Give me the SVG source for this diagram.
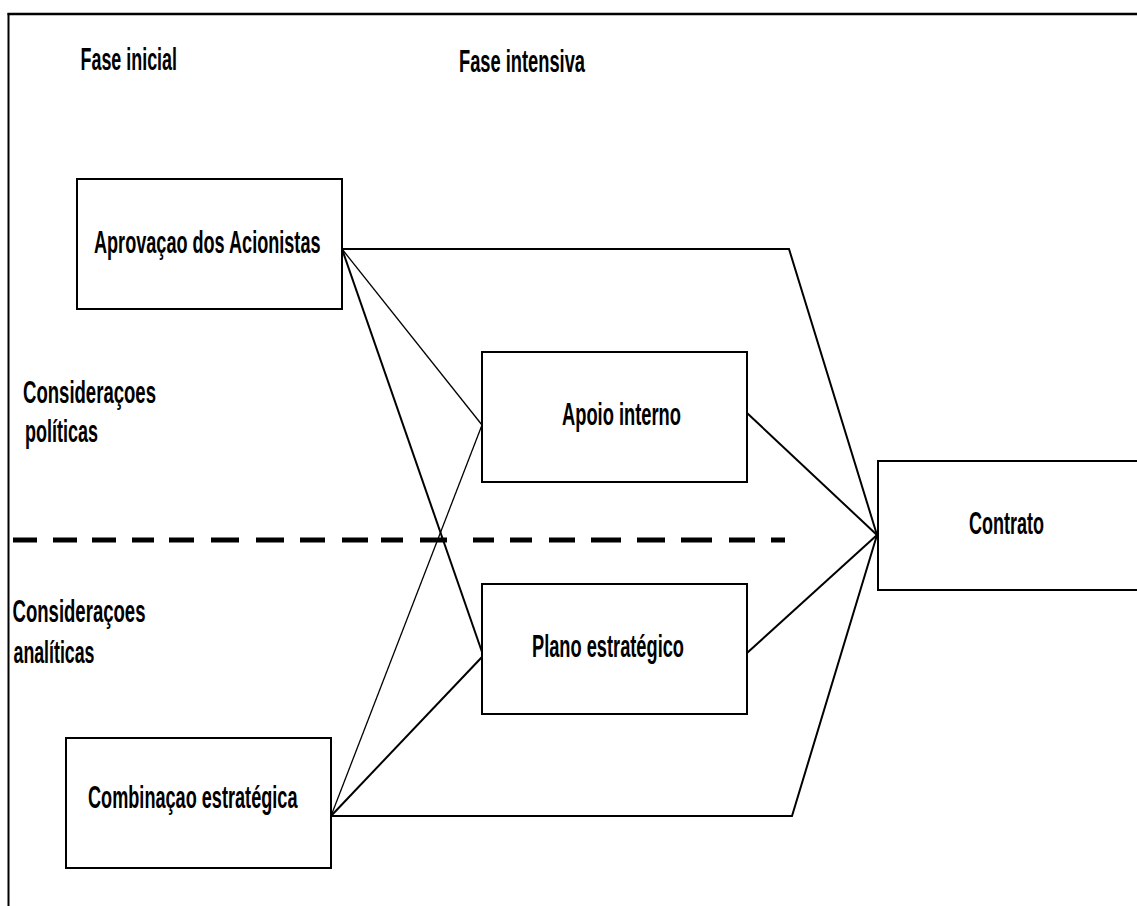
<svg xmlns="http://www.w3.org/2000/svg" width="1137" height="906" viewBox="0 0 1137 906">
<style>
  .box { fill: #fff; stroke: #000; stroke-width: 2; }
  .lbl { font-family: "Liberation Sans", Arial, sans-serif; font-weight: bold; font-size: 30.5px; fill: #000; }
  .c { fill: none; stroke: #000; stroke-linejoin: miter; }
  .thick { stroke-width: 2; }
  .thin { stroke-width: 1.3; }
</style>
<rect x="0" y="0" width="1137" height="906" fill="#fff"/>
<g id="frame" fill="none" stroke="#000">
  <line x1="7.5" y1="14" x2="1137" y2="14" stroke-width="2.5"/>
  <line x1="8.5" y1="13" x2="8.5" y2="906" stroke-width="2"/>
</g>
<g id="divider">
  <path d="M13 540H37M53 540H77M92 540H116M132 540H154M169 540H194M211 540H239M256 540H284M300 540H325M342 540H368M381 540H403M420 540H447M473 540H494M510 540H532M549 540H575M591 540H621M637 540H665M681 540H712M729 540H755M771 540H785" stroke="#000" stroke-width="5" fill="none"/>
</g>
<g id="connectors">
  <polyline class="c thick" points="342,249 789,249 877,535"/>
  <line class="c thin" x1="342" y1="249" x2="482" y2="425"/>
  <line class="c thick" x1="342" y1="249" x2="482" y2="652"/>
  <line class="c thin" x1="331" y1="816" x2="482" y2="425"/>
  <line class="c thick" x1="331" y1="816" x2="482" y2="657"/>
  <polyline class="c thick" points="331,816 792,816 877,535"/>
  <line class="c thick" x1="747" y1="413" x2="877" y2="535"/>
  <line class="c thick" x1="747" y1="653" x2="877" y2="535"/>
</g>
<g id="phase-labels">
  <text class="lbl" x="80.5" y="69.5" textLength="96.5" lengthAdjust="spacingAndGlyphs">Fase inicial</text>
  <text class="lbl" x="459" y="71.5" textLength="126" lengthAdjust="spacingAndGlyphs">Fase intensiva</text>
</g>
<g id="side-labels">
  <text class="lbl" x="23" y="403" textLength="133" lengthAdjust="spacingAndGlyphs">Consideraçoes</text>
  <text class="lbl" x="25" y="442" textLength="73" lengthAdjust="spacingAndGlyphs">políticas</text>
  <text class="lbl" x="12.5" y="622" textLength="133" lengthAdjust="spacingAndGlyphs">Consideraçoes</text>
  <text class="lbl" x="13.5" y="663" textLength="81" lengthAdjust="spacingAndGlyphs">analíticas</text>
</g>
<g id="node-aprovacao">
  <rect class="box" x="77" y="179" width="265" height="130"/>
  <text class="lbl" x="94" y="252.5" textLength="226.5" lengthAdjust="spacingAndGlyphs">Aprovaçao dos Acionistas</text>
</g>
<g id="node-apoio">
  <rect class="box" x="482" y="352" width="265" height="130"/>
  <text class="lbl" x="562" y="425" textLength="119" lengthAdjust="spacingAndGlyphs">Apoio interno</text>
</g>
<g id="node-plano">
  <rect class="box" x="482" y="584" width="265" height="130"/>
  <text class="lbl" x="532" y="657" textLength="152" lengthAdjust="spacingAndGlyphs">Plano estratégico</text>
</g>
<g id="node-combinacao">
  <rect class="box" x="66" y="738" width="265" height="130"/>
  <text class="lbl" x="88" y="808" textLength="209.5" lengthAdjust="spacingAndGlyphs">Combinaçao estratégica</text>
</g>
<g id="node-contrato">
  <rect class="box" x="878" y="461" width="270" height="129"/>
  <text class="lbl" x="969" y="534" textLength="75" lengthAdjust="spacingAndGlyphs">Contrato</text>
</g>
</svg>
